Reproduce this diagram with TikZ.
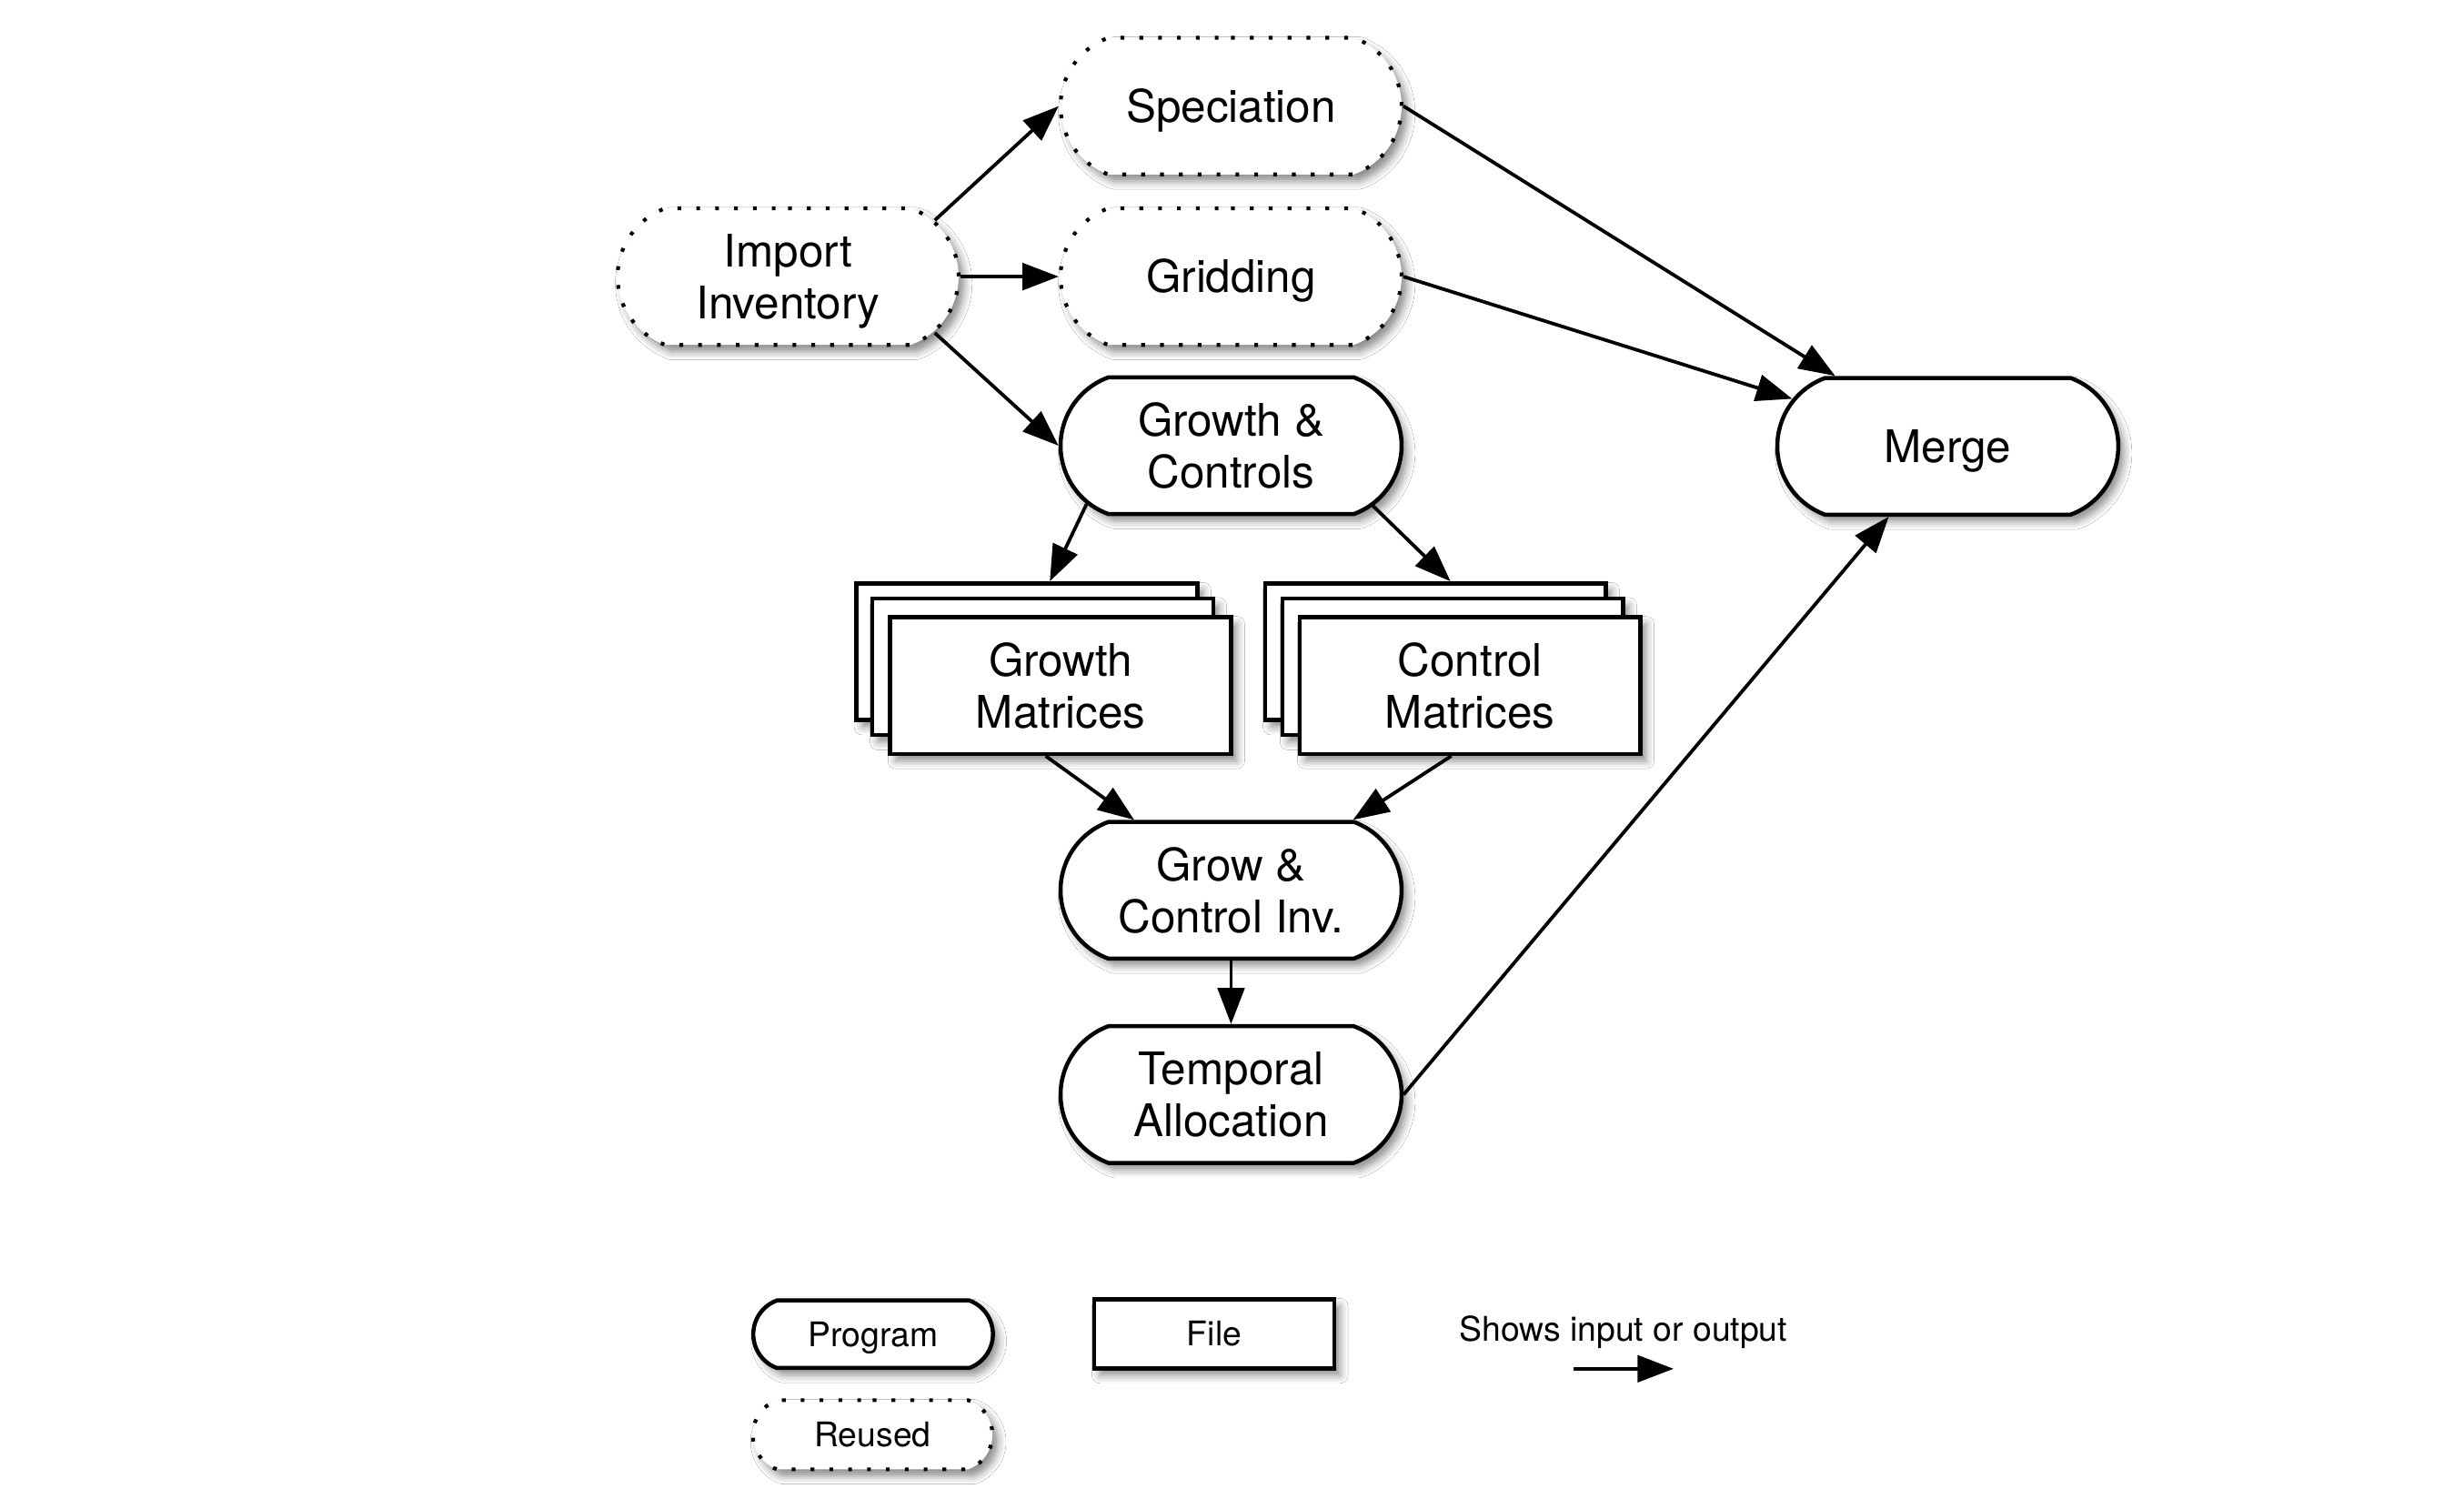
\documentclass[tikz,border=0pt]{standalone}
\usepackage{fontspec}
\setmainfont{TeX Gyre Heros}
\usetikzlibrary{shapes.misc,arrows.meta,shadows.blur}
\tikzset{
  base/.style={font=\fontsize{14.3}{16.4}\selectfont, align=center, fill=white, inner sep=0pt,
    blur shadow={shadow xshift=1.8pt, shadow yshift=-2.2pt, shadow blur radius=2.5pt, shadow opacity=45}},
  oneline/.style={text height=10.3pt, text depth=0pt},
  legoneline/.style={text height=7.8pt, text depth=0pt},
  prog/.style={base, rounded rectangle, rounded rectangle arc length=140, draw, line width=1.3pt,
    minimum width=108.5pt, minimum height=43.5pt},
  reused/.style={prog, line width=1.2pt, dash pattern=on 1.2pt off 4.8pt},
  filebox/.style={base, rectangle, draw, line width=1.3pt, minimum width=108.5pt, minimum height=43.5pt},
  legfont/.style={font=\fontsize{10.8}{13}\selectfont},
  legprog/.style={prog, legfont, legoneline, minimum width=76.25pt, minimum height=21.5pt},
  legreused/.style={reused, legfont, legoneline, minimum width=76.25pt, minimum height=22pt},
  legfile/.style={filebox, legfont, legoneline, minimum width=76.5pt, minimum height=22pt},
  conn/.style={-{Triangle[length=11.5pt,width=8.5pt]}, line width=1.1pt},
}
\begin{document}
\begin{tikzpicture}[x=0.5pt,y=-0.5pt]
\useasboundingbox[fill=white] (0,0) rectangle (1568,960.2);
% programs
\node[reused, oneline] (spec) at (783.4,67.5) {Speciation};
\node[reused, oneline] (grid) at (783.4,176) {Gridding};
\node[reused] (imp) at (501.5,176) {Import\\\smash{Inventory}};
\node[prog] (gc) at (783.4,283.6) {Growth \&\\Controls};
\node[prog, oneline] (merge) at (1239.5,284) {Merge};
% file stacks
\node[filebox] (gmA) at (653.5,414.7) {};
\node[filebox] (gmB) at (663.5,424.3) {};
\node[filebox] (gm) at (675,436.3) {Growth\\Matrices};
\node[filebox] (cmA) at (913.5,414.7) {};
\node[filebox] (cmB) at (924.5,424.3) {};
\node[filebox] (cm) at (935.5,436.3) {Control\\Matrices};
\node[prog] (gci) at (783.4,566.5) {Grow \&\\Control Inv.};
\node[prog] (ta) at (783.4,696.5) {Temporal\\Allocation};
% connectors
\draw[conn] (imp.21.6) -- (spec.west);
\draw[conn] (imp.east) -- (grid.west);
\draw[conn] (imp.-21.6) -- (gc.west);
\draw[conn] (spec.east) -- (merge.148);
\draw[conn] (grid.east) -- (merge.163);
\draw[conn] (ta.east) -- (merge.230.7);
\draw[conn] (gc.202.9) -- (gmA.72.7);
\draw[conn] (gc.-23) -- (cmA.78.9);
\draw[conn] (gm.258.4) -- (gci.144);
\draw[conn] (cm.255.3) -- (gci.30.8);
\draw[conn] (gci.south) -- (ta.north);
% legend
\node[legprog] (lprog) at (555.6,849) {Program};
\node[legreused] (lreu) at (555.3,913) {Reused};
\node[legfile] (lfile) at (772.7,848.8) {File};
\node[legfont] (ltext) at (1033,848) {Shows input or output};
\coordinate (la) at (1001.3,871);
\coordinate (lb) at (1065,871);
\draw[conn] (la) -- (lb);
\end{tikzpicture}
\end{document}
